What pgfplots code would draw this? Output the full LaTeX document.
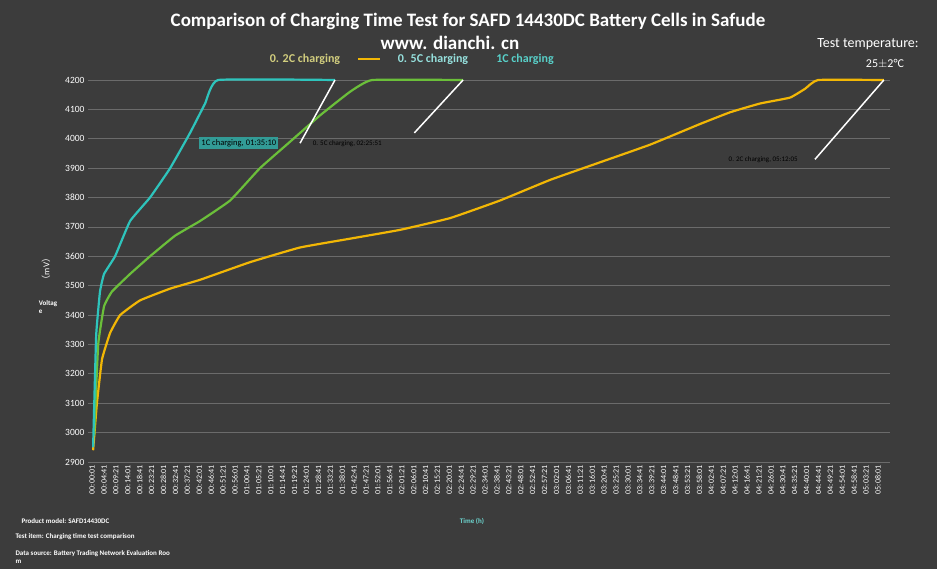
\documentclass[border=0pt]{standalone}
\usepackage{pgfplots}
\pgfplotsset{compat=1.18}
\usepackage{fontspec}
\setmainfont{Carlito}
\newfontfamily\cjk{Noto Sans CJK SC}
\definecolor{bg}{HTML}{3C3C3C}
\definecolor{cteal}{HTML}{2EC4BC}
\definecolor{cgreen}{HTML}{6BBF3A}
\definecolor{cyel}{HTML}{F2B705}
\begin{document}
\begin{tikzpicture}[x=1pt,y=1pt]
\fill[bg] (0,0) rectangle (937,569);
\node[white,font=\bfseries\fontsize{19}{20}\selectfont] at (468,548) {Comparison of Charging Time Test for SAFD 14430DC Battery Cells in Safude};
\node[white,font=\bfseries\fontsize{19}{20}\selectfont] at (450,526) {www. dianchi. cn};
\node[white,font=\fontsize{14}{15}\selectfont] at (868,525) {Test temperature:};
\node[white,font=\fontsize{12}{13}\selectfont] at (885,505) {25$\pm$2\textdegree C};
\node[color=yellow!50!gray!80!white,font=\bfseries\fontsize{12}{13}\selectfont] at (305,510) {0. 2C charging};
\draw[cyel,line width=2.5pt] (358,510)--(380,510);
\node[color=cteal!50!white,font=\bfseries\fontsize{12}{13}\selectfont] at (433,510) {0. 5C charging};
\node[color=cteal!80!white,font=\bfseries\fontsize{12}{13}\selectfont] at (525,510) {1C charging};
\node[white,rotate=90,font=\fontsize{9}{10}\selectfont] at (46,300) {{\cjk （}mV{\cjk ）}};
\node[white,font=\bfseries\fontsize{7}{8}\selectfont,align=left] at (48,262) {Voltag\\e};
\node[white,font=\bfseries\fontsize{7}{8}\selectfont,anchor=west] at (18,48) {Product model: SAFD14430DC};
\node[cteal!70!white,font=\bfseries\fontsize{7}{8}\selectfont] at (472,48) {Time (h)};
\node[white,font=\bfseries\fontsize{7}{8}\selectfont,anchor=west] at (12,32) {Test item: Charging time test comparison};
\node[white,font=\bfseries\fontsize{7}{8}\selectfont,anchor=west,align=left] at (12,12) {Data source: Battery Trading Network Evaluation Roo\\m};
\begin{axis}[at={(88pt,107pt)},anchor=south west,scale only axis,width=802pt,height=382pt,
 xmin=-1.6,xmax=312.7,ymin=2900,ymax=4200,clip=false,
 axis line style={draw=none},
 ytick={2900,3000,...,4200},
 yticklabel style={white,font=\fontsize{9.5}{10}\selectfont},
 /pgf/number format/assume math mode=true,
 /pgf/number format/1000 sep={},
 ymajorgrids,grid style={gray!70!bg,line width=0.8pt},
 major tick length=0pt,
 xtick={0,4.6667,...,308.1},
 xticklabel style={rotate=90,anchor=east,white,font=\fontsize{8}{8}\selectfont},
 xticklabels={00:00:01,00:04:41,00:09:21,00:14:01,00:18:41,00:23:21,00:28:01,00:32:41,00:37:21,00:42:01,00:46:41,00:51:21,00:56:01,01:00:41,01:05:21,01:10:01,01:14:41,01:19:21,01:24:01,01:28:41,01:33:21,01:38:01,01:42:41,01:47:21,01:52:01,01:56:41,02:01:21,02:06:01,02:10:41,02:15:21,02:20:01,02:24:41,02:29:21,02:34:01,02:38:41,02:43:21,02:48:01,02:52:41,02:57:21,03:02:01,03:06:41,03:11:21,03:16:01,03:20:41,03:25:21,03:30:01,03:34:41,03:39:21,03:44:01,03:48:41,03:53:21,03:58:01,04:02:41,04:07:21,04:12:01,04:16:41,04:21:21,04:26:01,04:30:41,04:35:21,04:40:01,04:44:41,04:49:21,04:54:01,04:58:41,05:03:21,05:08:01},
]
\addplot[cyel,line width=2.2pt,smooth,tension=0.2] coordinates {(0.4,2940)(1.9,3100)(3.9,3250)(7.1,3340)(11,3400)(18.8,3450)(30.6,3490)(42.3,3520)(61.9,3580)(81.5,3630)(101.1,3660)(120.7,3690)(140.3,3730)(159.9,3790)(179.5,3860)(199.1,3920)(218.7,3980)(238.2,4050)(250,4090)(261.8,4120)(273.5,4140)(279.4,4170)(284.5,4200)(310.3,4200)};
\addplot[cgreen,line width=2.2pt,smooth,tension=0.2] coordinates {(0.8,2990)(2.4,3300)(4.7,3430)(7.8,3480)(14.9,3540)(22.7,3600)(32.5,3670)(42.3,3720)(54.1,3790)(65.8,3900)(77.6,3990)(89.4,4080)(101.1,4160)(109.8,4200)(145.4,4200)};
\addplot[cteal,line width=2.2pt,smooth,tension=0.2] coordinates {(0.4,2950)(1.6,3330)(3.1,3480)(4.7,3540)(9,3600)(14.9,3720)(22.7,3800)(30.6,3900)(38.4,4020)(44.3,4120)(49.4,4200)(95.2,4200)};
\addplot[white,line width=1.5pt] coordinates {(95.2,4200)(81.5,3985)};
\addplot[white,line width=1.5pt] coordinates {(145.4,4200)(126.3,4020)};
\addplot[white,line width=1.5pt] coordinates {(310.3,4200)(283.3,3930)};
\node[fill=cteal!70!bg,font=\fontsize{8.5}{9}\selectfont,inner sep=2pt] at (axis cs:57.5,3985) {1C charging, 01:35:10};
\node[font=\fontsize{7}{8}\selectfont,black] at (axis cs:100,3982) {0. 5C charging, 02:25:51};
\node[font=\fontsize{7}{8}\selectfont,black] at (axis cs:263,3928) {0. 2C charging, 05:12:05};
\end{axis}
\end{tikzpicture}
\end{document}
